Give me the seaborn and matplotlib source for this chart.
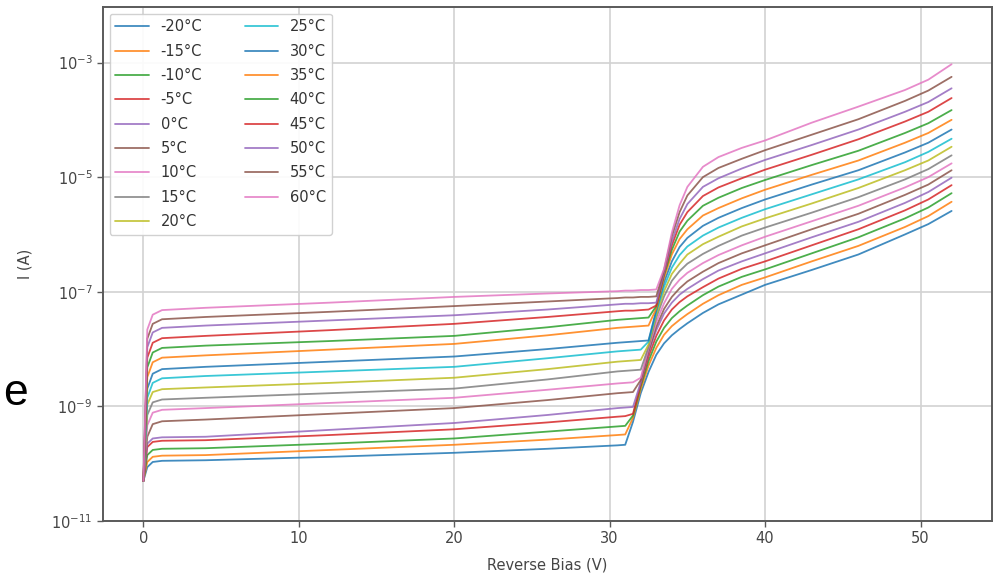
import numpy as np
import pandas as pd
import matplotlib
matplotlib.use("Agg")
import matplotlib.pyplot as plt
from matplotlib.ticker import NullLocator
import seaborn as sns

# ---------------- data (log10 of current in A) ----------------
voltage = [0, 0.25, 0.6, 1.2, 4, 12, 20, 26, 30.5, 31, 31.5, 32, 32.5, 33, 33.5,
           34, 34.5, 35, 36, 37, 38.5, 40, 43, 46, 49, 50.5, 52]

temperatures = [-20, -15, -10, -5, 0, 5, 10, 15, 20, 25, 30, 35, 40, 45, 50, 55, 60]
labels = [f"{t}°C" for t in temperatures]

log_i_m20 = [-10.30, -10.06, -9.97, -9.95, -9.94, -9.88, -9.81, -9.74, -9.68,
             -9.67, -9.27, -8.77, -8.40, -8.10, -7.90, -7.76, -7.65, -7.55,
             -7.37, -7.22, -7.05, -6.88, -6.62, -6.35, -6.00, -5.82, -5.59]
log_i_m15 = [-10.30, -9.97, -9.88, -9.86, -9.85, -9.76, -9.67, -9.58, -9.50,
             -9.49, -9.20, -8.70, -8.29, -7.98, -7.75, -7.60, -7.49, -7.39,
             -7.21, -7.06, -6.88, -6.75, -6.47, -6.20, -5.87, -5.68, -5.43]
log_i_m10 = [-10.30, -9.85, -9.76, -9.74, -9.73, -9.65, -9.56, -9.44, -9.35,
             -9.34, -9.16, -8.65, -8.21, -7.87, -7.63, -7.46, -7.34, -7.24,
             -7.06, -6.91, -6.74, -6.61, -6.33, -6.05, -5.72, -5.53, -5.28]
log_i_m05 = [-10.30, -9.71, -9.62, -9.60, -9.59, -9.50, -9.40, -9.28, -9.18,
             -9.17, -9.13, -8.61, -8.13, -7.77, -7.50, -7.31, -7.18, -7.08,
             -6.92, -6.77, -6.60, -6.47, -6.19, -5.91, -5.58, -5.39, -5.14]
log_i_p00 = [-10.30, -9.65, -9.56, -9.54, -9.53, -9.41, -9.29, -9.15, -9.03,
             -9.02, -9.01, -8.58, -8.06, -7.67, -7.38, -7.19, -7.05, -6.95,
             -6.78, -6.63, -6.47, -6.33, -6.05, -5.78, -5.45, -5.26, -5.01]
log_i_p05 = [-10.30, -9.53, -9.31, -9.26, -9.23, -9.13, -9.03, -8.89, -8.77,
             -8.76, -8.75, -8.54, -8.04, -7.61, -7.30, -7.09, -6.94, -6.82,
             -6.65, -6.50, -6.33, -6.19, -5.91, -5.64, -5.31, -5.13, -4.88]
log_i_p10 = [-10.30, -9.33, -9.11, -9.06, -9.03, -8.94, -8.85, -8.71, -8.60,
             -8.59, -8.58, -8.50, -7.99, -7.53, -7.20, -6.95, -6.79, -6.67,
             -6.50, -6.36, -6.19, -6.04, -5.77, -5.50, -5.18, -5.00, -4.76]
log_i_p15 = [-10.30, -9.15, -8.93, -8.88, -8.85, -8.77, -8.69, -8.53, -8.39,
             -8.38, -8.37, -8.36, -7.96, -7.45, -7.08, -6.81, -6.64, -6.51,
             -6.34, -6.20, -6.02, -5.88, -5.62, -5.35, -5.04, -4.86, -4.62]
log_i_p20 = [-10.30, -8.97, -8.75, -8.70, -8.67, -8.59, -8.50, -8.35, -8.22,
             -8.21, -8.20, -8.19, -7.92, -7.40, -6.99, -6.69, -6.51, -6.35,
             -6.17, -6.04, -5.86, -5.72, -5.46, -5.19, -4.88, -4.71, -4.47]
log_i_p25 = [-10.30, -8.85, -8.59, -8.51, -8.47, -8.39, -8.31, -8.16, -8.04,
             -8.03, -8.02, -8.01, -7.87, -7.35, -6.91, -6.58, -6.36, -6.21,
             -6.02, -5.88, -5.71, -5.56, -5.30, -5.04, -4.74, -4.56, -4.33]
log_i_p30 = [-10.30, -8.69, -8.43, -8.35, -8.31, -8.22, -8.13, -8.00, -7.89,
             -7.88, -7.87, -7.86, -7.85, -7.32, -6.83, -6.47, -6.22, -6.06,
             -5.85, -5.71, -5.54, -5.39, -5.13, -4.88, -4.57, -4.40, -4.17]
log_i_p35 = [-10.30, -8.49, -8.23, -8.15, -8.11, -8.01, -7.91, -7.76, -7.63,
             -7.62, -7.61, -7.60, -7.59, -7.29, -6.76, -6.35, -6.08, -5.91,
             -5.67, -5.54, -5.37, -5.22, -4.96, -4.71, -4.40, -4.23, -4.00]
log_i_p40 = [-10.30, -8.32, -8.06, -7.98, -7.94, -7.86, -7.77, -7.62, -7.49,
             -7.48, -7.47, -7.46, -7.45, -7.25, -6.71, -6.27, -5.95, -5.76,
             -5.50, -5.36, -5.19, -5.05, -4.79, -4.54, -4.23, -4.06, -3.83]
log_i_p45 = [-10.30, -8.15, -7.89, -7.81, -7.77, -7.67, -7.56, -7.44, -7.34,
             -7.33, -7.33, -7.32, -7.31, -7.24, -6.68, -6.19, -5.83, -5.61,
             -5.33, -5.18, -5.02, -4.87, -4.61, -4.34, -4.03, -3.86, -3.62]
log_i_p50 = [-10.30, -7.97, -7.71, -7.63, -7.59, -7.50, -7.41, -7.31, -7.22,
             -7.21, -7.21, -7.20, -7.20, -7.19, -6.66, -6.12, -5.73, -5.47,
             -5.17, -5.02, -4.85, -4.70, -4.44, -4.17, -3.86, -3.69, -3.45]
log_i_p55 = [-10.30, -7.82, -7.56, -7.48, -7.44, -7.35, -7.25, -7.17, -7.11,
             -7.10, -7.10, -7.09, -7.09, -7.08, -6.62, -6.03, -5.61, -5.32,
             -5.00, -4.84, -4.68, -4.53, -4.26, -3.99, -3.67, -3.49, -3.25]
log_i_p60 = [-10.30, -7.66, -7.40, -7.32, -7.28, -7.19, -7.09, -7.03, -6.99,
             -6.98, -6.98, -6.97, -6.97, -6.96, -6.60, -5.97, -5.49, -5.17,
             -4.82, -4.65, -4.49, -4.36, -4.05, -3.77, -3.48, -3.30, -3.03]

curves = [log_i_m20, log_i_m15, log_i_m10, log_i_m05, log_i_p00, log_i_p05,
          log_i_p10, log_i_p15, log_i_p20, log_i_p25, log_i_p30, log_i_p35,
          log_i_p40, log_i_p45, log_i_p50, log_i_p55, log_i_p60]

y_ticks = [1e-11, 1e-9, 1e-7, 1e-5, 1e-3]
x_ticks = [0, 10, 20, 30, 40, 50]

# ---------------- figure ----------------
sns.set_theme(style="whitegrid")
plt.rcParams["font.family"] = ["DejaVu Sans"]

fig = plt.figure(figsize=(9.96, 5.74), dpi=100)
ax = fig.add_axes([103 / 996, 1 - 521 / 574, (992 - 103) / 996, (521 - 7) / 574])

base = sns.color_palette("tab10", 10)
colors = [base[i % 10] for i in range(len(temperatures))]

rows = []
for lab, vals in zip(labels, curves):
    for v, li in zip(voltage, vals):
        rows.append({"V": v, "I": 10.0 ** li, "T": lab})
df = pd.DataFrame(rows)

sns.lineplot(data=df, x="V", y="I", hue="T", hue_order=labels, palette=colors,
             estimator=None, sort=False, linewidth=1.3, alpha=0.85, ax=ax,
             legend="full")

ax.set_yscale("log")
ax.set_ylim(1e-11, 9.3e-3)
ax.set_xlim(-2.6, 54.6)
ax.set_yticks(y_ticks)
ax.yaxis.set_minor_locator(NullLocator())
ax.set_xticks(x_ticks)

ax.grid(True, which="major", color="#d2d2d2", linewidth=1.2)
for s in ax.spines.values():
    s.set_color("#5a5a5a")
    s.set_linewidth(1.4)
ax.tick_params(axis="both", which="major", length=4, width=1.0, color="#5a5a5a",
               labelsize=10.5, labelcolor="#454545", bottom=True, left=True)

ax.set_xlabel("Reverse Bias (V)", fontsize=10.5, color="#454545", labelpad=8)
ax.set_ylabel("I (A)", fontsize=10.5, color="#454545")
ax.yaxis.set_label_coords(-0.079, 0.5)

old = ax.get_legend()
handles = old.legend_handles
texts = [t.get_text() for t in old.get_texts()]
old.remove()
leg = ax.legend(handles, texts, ncol=2, loc="upper left", fontsize=10.5,
                frameon=True, framealpha=0.9, edgecolor="#cccccc",
                borderaxespad=0.45, handlelength=2.3, columnspacing=2.9,
                labelspacing=0.64)
for t in leg.get_texts():
    t.set_color("#333333")
for h in leg.legend_handles:
    h.set_linewidth(1.3)

fig.text(15 / 996, 1 - 405 / 574, "e", fontsize=32, ha="center", va="baseline",
         family=["Liberation Sans", "DejaVu Sans"], color="black")

fig.savefig("out.png", dpi=100)
